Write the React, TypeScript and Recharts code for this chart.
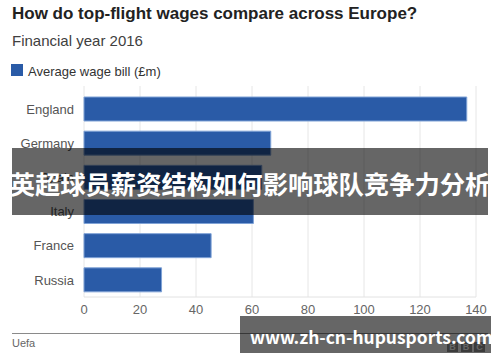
import { BarChart, Bar, XAxis, YAxis, CartesianGrid } from "recharts";

const countries = ["England", "Germany", "Spain", "Italy", "France", "Russia"];
const wageBill = [136.7, 66.7, 63.5, 60.5, 45.4, 27.7];
const xTicks = [0, 20, 40, 60, 80, 100, 120, 140];
const bbcLetters = ["B", "B", "C"];

const data = countries.map((country, i) => ({ country, wage: wageBill[i] }));

const SANS = '"Liberation Sans", Arial, sans-serif';
const CJK = '"Noto Sans CJK SC", sans-serif';

export default function App() {
    return (
        <div style={{ position: "absolute", left: 0, top: 0, width: 500, height: 362, background: "#fff", fontFamily: SANS, overflow: "hidden" }}>
            {/* Header */}
            <div style={{ position: "absolute", left: 12, top: 5, fontSize: 17, lineHeight: "17px", fontWeight: 700, color: "#222", whiteSpace: "nowrap" }}>
                How do top-flight wages compare across Europe?
            </div>
            <div style={{ position: "absolute", left: 12, top: 33, fontSize: 15, lineHeight: "15px", color: "#404040", whiteSpace: "nowrap" }}>
                Financial year 2016
            </div>

            {/* Legend */}
            <div style={{ position: "absolute", left: 11, top: 64, width: 12, height: 12, background: "#2a5ba7" }} />
            <div style={{ position: "absolute", left: 28, top: 64.7, fontSize: 13, lineHeight: "13px", color: "#333", whiteSpace: "nowrap" }}>
                Average wage bill (£m)
            </div>

            {/* Chart */}
            <div style={{ position: "absolute", left: 0, top: 0 }}>
                <BarChart
                    width={500}
                    height={362}
                    data={data}
                    layout="vertical"
                    margin={{ top: 86, right: 24, bottom: 35, left: 0 }}
                    barCategoryGap={0}
                >
                    <CartesianGrid horizontal={false} stroke="#e6e6e6" />
                    <XAxis
                        type="number"
                        domain={[0, 140]}
                        ticks={xTicks}
                        height={30}
                        axisLine={{ stroke: "#e2e2e2" }}
                        tickLine={false}
                        tick={{ fontSize: 13, fill: "#666", fontFamily: SANS }}
                    />
                    <YAxis
                        type="category"
                        dataKey="country"
                        width={84}
                        padding={{ top: 6, bottom: 0 }}
                        axisLine={false}
                        tickLine={false}
                        tickMargin={4}
                        tick={{ fontSize: 13, fill: "#555", fontFamily: SANS }}
                    />
                    <Bar
                        dataKey="wage"
                        barSize={24}
                        fill="#2a5ba7"
                        stroke="#7fa2d6"
                        strokeWidth={1}
                        isAnimationActive={false}
                    />
                </BarChart>
            </div>

            {/* Footer */}
            <div style={{ position: "absolute", left: 12, top: 333, width: 476, height: 1, background: "#8a8a8a" }} />
            <div style={{ position: "absolute", left: 12, top: 338, fontSize: 11, lineHeight: "11px", color: "#666" }}>Uefa</div>
            {bbcLetters.map((letter, i) => (
                <div
                    key={i}
                    style={{
                        position: "absolute",
                        left: 447 + i * 13.5,
                        top: 342,
                        width: 11,
                        height: 10,
                        background: "#939393",
                        color: "#fff",
                        fontSize: 9,
                        lineHeight: "10px",
                        fontWeight: 700,
                        textAlign: "center",
                    }}
                >
                    {letter}
                </div>
            ))}

            {/* Overlay banner */}
            <div
                style={{
                    position: "absolute",
                    left: 12,
                    top: 148,
                    width: 476,
                    height: 67,
                    background: "rgba(0,0,0,0.6)",
                    display: "flex",
                    alignItems: "center",
                    justifyContent: "center",
                    paddingTop: 4,
                    boxSizing: "border-box",
                }}
            >
                <span style={{ fontFamily: CJK, fontWeight: 700, fontSize: 25.3, color: "#fff", whiteSpace: "nowrap", lineHeight: 1 }}>
                    英超球员薪资结构如何影响球队竞争力分析
                </span>
            </div>

            {/* Watermark box */}
            <div
                style={{
                    position: "absolute",
                    left: 240,
                    top: 316,
                    width: 251,
                    height: 37,
                    background: "rgba(0,0,0,0.6)",
                }}
            >
                <span style={{ position: "absolute", left: 10, top: 11.5, fontFamily: CJK, fontWeight: 700, fontSize: 17.4, lineHeight: "17.4px", color: "#fff", whiteSpace: "nowrap" }}>
                    www.zh-cn-hupusports.com
                </span>
            </div>
        </div>
    );
}
